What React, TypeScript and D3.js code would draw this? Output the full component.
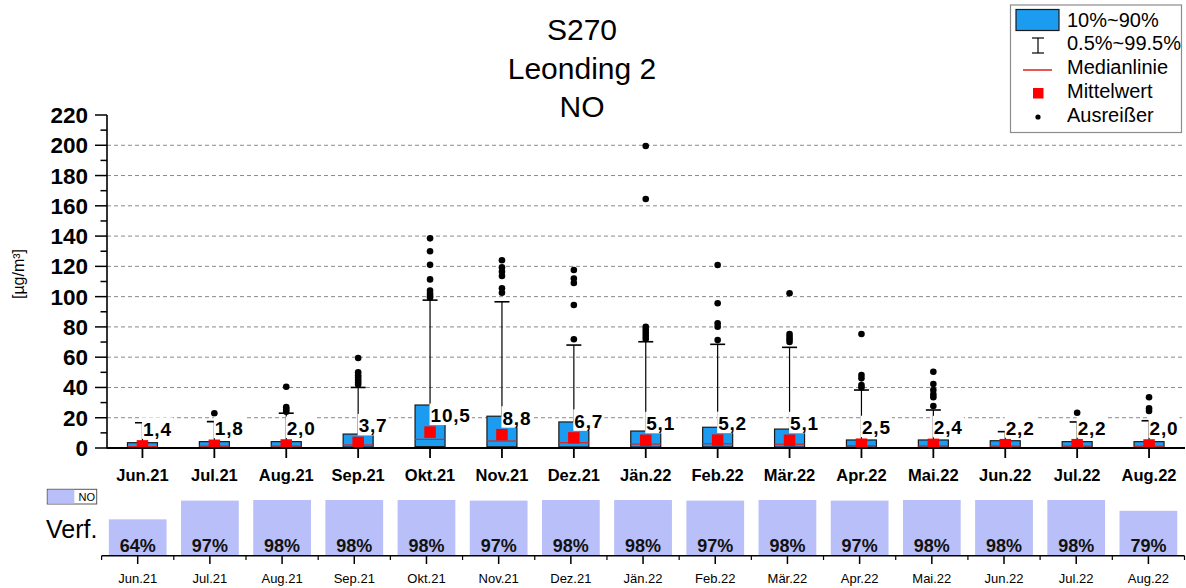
import React from "react";
import * as d3 from "d3";

const months = ["Jun.21","Jul.21","Aug.21","Sep.21","Okt.21","Nov.21","Dez.21","Jän.22","Feb.22","Mär.22","Apr.22","Mai.22","Jun.22","Jul.22","Aug.22"];
const meanValues = [1.4,1.8,2.0,3.7,10.5,8.8,6.7,5.1,5.2,5.1,2.5,2.4,2.2,2.2,2.0];
const p10Values = [0.5,0.5,0.5,0.6,0.9,0.8,0.7,0.6,0.7,0.6,0.5,0.5,0.5,0.5,0.5];
const p90Values = [3.5,4.2,4.2,9.2,28.4,21.0,17.2,11.2,13.7,12.5,5.3,5.3,4.8,4.2,4.2];
const medianValues = [1.0,1.2,1.3,2.0,5.7,4.6,3.5,2.6,2.8,2.5,1.5,1.4,1.3,1.3,1.2];
const p995Values = [16.7,17.4,23,40,97.7,96.6,68,70.2,68.5,66.5,38.3,25.1,10.8,17.2,18];
const outlierValues: number[][] = [
  [],
  [23],
  [40.5,27,25.5,24],
  [59.5,50,48,46.5,45,43.5,42],
  [138.5,130,121,111.4,104,102,100.5,99.5],
  [124,119.3,116.5,113.6,105.5,102.6],
  [117.6,112,109,94.5,71.8],
  [199.5,164.5,80,78,76,74,72],
  [120.9,95.6,82.4,80.1,71.3],
  [102.2,75.3,73.5,71.8,70],
  [75.3,48.2,46,41.6,40],
  [50.4,42.3,38.3,35.4,33.5,27.7],
  [],
  [23.3],
  [33.5,26.2,24.4],
];
const availability = [64,97,98,98,98,97,98,98,97,98,97,98,98,98,79];
const yTicks = [0,20,40,60,80,100,120,140,160,180,200,220];
const titleLines = ["S270","Leonding 2","NO"];
const legendItems = ["10%~90%","0.5%~99.5%","Medianlinie","Mittelwert","Ausreißer"];

const FONT = "'Liberation Sans', Arial, sans-serif";
const BOX_BLUE = "#1c9cf0";
const BAR_LAV = "#b9bff8";

function fmt(v: number) {
  return v.toFixed(1).replace(".", ",");
}
function textW(s: string, fs: number) {
  let w = 0;
  for (const c of s) w += c === "," ? 0.278 : 0.556;
  return w * fs;
}

export default function App() {
  const W = 1186, H = 588;
  const x = d3.scaleBand<string>().domain(months).range([106.5, 1185]);
  const bw = x.bandwidth();
  const cx = (m: string) => (x(m) as number) + bw / 2;
  const y = d3.scaleLinear().domain([0, 220]).range([448, 115]);
  const minorTicks = d3.range(0, 221, 10);
  const gridTicks = d3.range(20, 201, 20);

  const xb = d3.scaleBand<string>().domain(months).range([101.6, 1184.5]).paddingInner(0.2).paddingOuter(0.1);
  const yb = d3.scaleLinear().domain([0, 100]).range([555.7, 498.9]);
  const step = xb.step();
  const bStart = 101.6;

  const boxW = 30;
  const capW = 15;
  const sq = 11.5;
  const labelFs = 19;
  const ls = 0.8;

  return (
    <svg width={W} height={H} style={{ position: "absolute", left: 0, top: 0, display: "block" }} fontFamily={FONT}>
      <rect x={0} y={0} width={W} height={H} fill="#fff" />
      <defs>
        <clipPath id="plotclip">
          <rect x={106.5} y={110} width={1080} height={448 - 110} />
        </clipPath>
      </defs>

      {/* Title */}
      {titleLines.map((t, i) => (
        <text key={t} x={582} y={40 + i * 38.5} textAnchor="middle" fontSize={30} fill="#000">{t}</text>
      ))}

      {/* grid */}
      {gridTicks.map((t) => (
        <line key={"g" + t} x1={107} x2={1185} y1={y(t)} y2={y(t)} stroke="#8a8a8a" strokeWidth={1} strokeDasharray="4,3" />
      ))}

      {/* boxes */}
      <g clipPath="url(#plotclip)">
        {months.map((m, i) => {
          const c = cx(m);
          return (
            <g key={"b" + m}>
              <line x1={c} x2={c} y1={y(p90Values[i])} y2={y(p995Values[i])} stroke="#000" strokeWidth={1.2} />
              <line x1={c - capW / 2} x2={c + capW / 2} y1={y(p995Values[i])} y2={y(p995Values[i])} stroke="#000" strokeWidth={1.6} />
              <rect x={c - boxW / 2} y={y(p90Values[i])} width={boxW} height={y(p10Values[i]) - y(p90Values[i])} fill={BOX_BLUE} stroke="#1a1a1a" strokeWidth={1.2} />
              <line x1={c - boxW / 2} x2={c + boxW / 2} y1={y(medianValues[i])} y2={y(medianValues[i])} stroke="#e0201a" strokeWidth={1.2} />
              {outlierValues[i].map((o, k) => (
                <circle key={k} cx={c} cy={y(o)} r={3.3} fill="#000" />
              ))}
              <rect x={c - sq / 2} y={y(meanValues[i]) - sq / 2} width={sq} height={sq} fill="#ff0000" />
            </g>
          );
        })}
      </g>

      {/* mean labels */}
      {months.map((m, i) => {
        const c = cx(m);
        const s = fmt(meanValues[i]);
        const base = y(meanValues[i]) - 10;
        const w = textW(s, labelFs) + ls * (s.length - 1);
        return (
          <g key={"l" + m}>
            <rect x={c - 0.5} y={base - 18.5} width={w + 3} height={21.5} fill="#fff" />
            <text x={c + 0.5} y={base} fontSize={labelFs} fontWeight="bold" letterSpacing={ls} fill="#000">{s}</text>
          </g>
        );
      })}

      {/* y axis */}
      <line x1={107} x2={107} y1={y(220)} y2={y(0)} stroke="#000" strokeWidth={1.6} />
      {minorTicks.map((t) => (
        <line key={"mt" + t} x1={t % 20 === 0 ? 95 : 100.5} x2={107} y1={y(t)} y2={y(t)} stroke="#000" strokeWidth={1.5} />
      ))}
      {yTicks.map((t) => (
        <text key={"yt" + t} x={88} y={y(t) + 8} textAnchor="end" fontSize={22.5} fontWeight="bold" fill="#000">{t}</text>
      ))}
      <text transform={`translate(24,274) rotate(-90)`} textAnchor="middle" fontSize={16} fill="#000">[µg/m³]</text>

      {/* x axis */}
      <line x1={106.5} x2={1185} y1={448} y2={448} stroke="#000" strokeWidth={2} />
      {months.map((m) => (
        <g key={"xt" + m}>
          <line x1={cx(m)} x2={cx(m)} y1={448} y2={458} stroke="#000" strokeWidth={1.8} />
          <text x={cx(m)} y={481} textAnchor="middle" fontSize={16.5} fontWeight="bold" fill="#000">{m}</text>
        </g>
      ))}

      {/* Legend */}
      <rect x={1010.5} y={5} width={171} height={127.5} fill="#fff" stroke="#8c8c8c" strokeWidth={1.2} />
      <rect x={1016} y={9.5} width={43} height={21} fill={BOX_BLUE} stroke="#1a1a1a" strokeWidth={1.2} />
      <line x1={1038} x2={1038} y1={38} y2={53} stroke="#000" strokeWidth={1.2} />
      <line x1={1032} x2={1044} y1={38} y2={38} stroke="#000" strokeWidth={1.2} />
      <line x1={1032} x2={1044} y1={53} y2={53} stroke="#000" strokeWidth={1.2} />
      <line x1={1023} x2={1052} y1={70} y2={70} stroke="#e0201a" strokeWidth={1.5} />
      <rect x={1033} y={88} width={10.5} height={10.5} fill="#ff0000" />
      <circle cx={1038} cy={117} r={2.6} fill="#000" />
      {legendItems.map((t, i) => (
        <text key={t} x={1067} y={26.7 + i * 23.75} fontSize={20} fill="#000">{t}</text>
      ))}

      {/* Availability chart */}
      <rect x={47.3} y={489.3} width={49.4} height={14.7} fill="#fff" stroke="#555" strokeWidth={1} />
      <rect x={47.8} y={489.8} width={26.5} height={13.7} fill={BAR_LAV} />
      <text x={78.5} y={501} fontSize={11} fill="#000">NO</text>
      <text x={46} y={538.3} fontSize={25} fill="#000">Verf.</text>
      {months.map((m, i) => {
        const bx = xb(m) as number;
        const bc = bx + xb.bandwidth() / 2;
        return (
          <g key={"av" + m}>
            <rect x={bx} y={yb(availability[i])} width={xb.bandwidth()} height={yb(0) - yb(availability[i])} fill={BAR_LAV} />
            <text x={bc} y={551.5} textAnchor="middle" fontSize={18} fontWeight="bold" fill="#111">{availability[i] + "%"}</text>
            <line x1={bc} x2={bc} y1={555.7} y2={564} stroke="#000" strokeWidth={1.5} />
            <text x={bc} y={582.5} textAnchor="middle" fontSize={13} fill="#000">{m}</text>
          </g>
        );
      })}
      {d3.range(0, months.length + 1).map((k) => (
        <line key={"bt" + k} x1={bStart + k * step} x2={bStart + k * step} y1={555.7} y2={560} stroke="#000" strokeWidth={1.2} />
      ))}
      <line x1={bStart} x2={1184.5} y1={555.7} y2={555.7} stroke="#000" strokeWidth={1.6} />
    </svg>
  );
}
